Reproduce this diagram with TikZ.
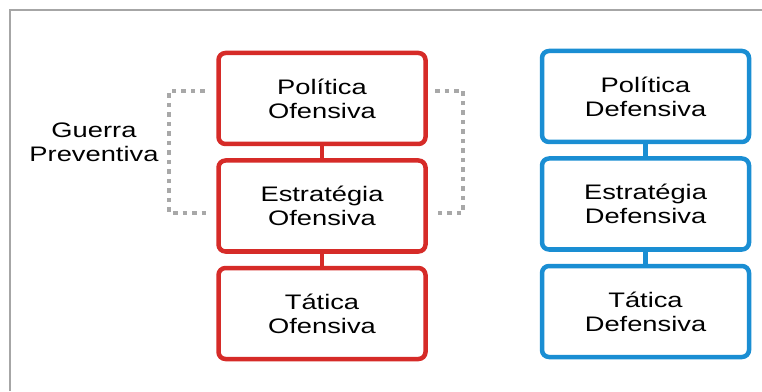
\documentclass[tikz,border=0pt]{standalone}
\usepackage{fontspec}
\setmainfont{Liberation Sans}[FakeStretch=1.3]
\usetikzlibrary{positioning}
\definecolor{ofered}{HTML}{D62B28}
\definecolor{defblue}{HTML}{1A8ED3}
\definecolor{dotgray}{HTML}{A8A8A8}
\tikzset{
  nivel/.style={draw, line width=4.5pt, rounded corners=7pt, fill=white,
    minimum width=207pt, minimum height=91pt, inner sep=0pt, outer sep=0pt,
    align=center, font=\fontsize{21}{24}\selectfont},
  ofe/.style={nivel, draw=ofered},
  def/.style={nivel, draw=defblue},
  chave/.style={dotgray, line width=4pt, dash pattern=on 4.5pt off 5pt},
}

\begin{document}
\begin{tikzpicture}[x=1pt,y=1pt]
	%%%%% START %%%%%
	\useasboundingbox (0,0) rectangle (762,391);
	\draw[line width=1.2pt, color=black!35] (10,0) -- (10,381) -- (762,381);

	% ofensiva
	\node[ofe] (pofe) at (322,292.5) {Política\\Ofensiva};
	\node[ofe, below=16.5pt of pofe] (eofe) {Estratégia\\Ofensiva};
	\node[ofe, below=16.5pt of eofe] (tofe) {Tática\\Ofensiva};
	\draw[line width=4.5pt, ofered] (pofe) -- (eofe);
	\draw[line width=4.5pt, ofered] (eofe) -- (tofe);

	% defensiva
	\node[def] (pdef) at (645.5,294.5) {Política\\Defensiva};
	\node[def, below=16.5pt of pdef] (edef) {Estratégia\\Defensiva};
	\node[def, below=16.5pt of edef] (tdef) {Tática\\Defensiva};
	\draw[line width=4.5pt, defblue] (pdef) -- (edef);
	\draw[line width=4.5pt, defblue] (edef) -- (tdef);

	% guerra preventiva
	\draw[chave] ([xshift=-14pt,yshift=7.5pt]pofe.west) -| ([xshift=-49.5pt,yshift=-7pt]eofe.west) -- ([xshift=-9.5pt,yshift=-7pt]eofe.west);
	\draw[chave] ([xshift=9.5pt,yshift=7.5pt]pofe.east) -| ([xshift=37.5pt,yshift=-7pt]eofe.east) -- ([xshift=9.5pt,yshift=-7pt]eofe.east);
	\node[anchor=east, align=center, font=\fontsize{21}{24}\selectfont] (guerra) at (162,249) {Guerra\\Preventiva};
	%%%%% END %%%%%
\end{tikzpicture}
\end{document}
